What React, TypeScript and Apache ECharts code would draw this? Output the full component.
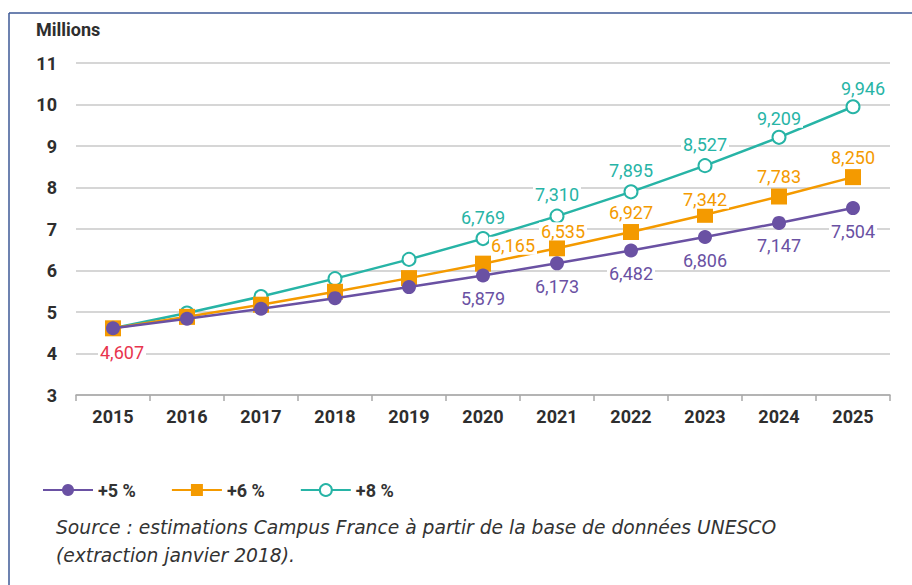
import React, { useEffect, useRef } from "react";
import * as echarts from "echarts";

const years = ["2015", "2016", "2017", "2018", "2019", "2020", "2021", "2022", "2023", "2024", "2025"];
const growth5 = [4.607, 4.837, 5.079, 5.333, 5.6, 5.879, 6.173, 6.482, 6.806, 7.147, 7.504];
const growth6 = [4.607, 4.883, 5.176, 5.487, 5.816, 6.165, 6.535, 6.927, 7.342, 7.783, 8.25];
const growth8 = [4.607, 4.976, 5.374, 5.804, 6.268, 6.769, 7.31, 7.895, 8.527, 9.209, 9.946];
const seriesNames = ["+5 %", "+6 %", "+8 %"];
const labelledFrom = 5; // labels shown for 2020..2025
const yTicks = { min: 3, max: 11, interval: 1 };

const PURPLE = "#6a51a3";
const ORANGE = "#f49a00";
const TEAL = "#27b4a6";
const RED = "#e8344e";
const FONT = "Roboto, 'Noto Sans', sans-serif";

const fmt = (v: number) => v.toFixed(3).replace(".", ",");

function labelStyle(color: string, position: string, distance: number, offset: number[]) {
  return {
    show: true,
    position,
    distance,
    offset,
    color,
    fontFamily: FONT,
    fontSize: 18,
    backgroundColor: "#ffffff",
    padding: [0, 2],
    formatter: (p: any) => fmt(p.value),
  };
}

function buildData(values: number[], color: string, position: string, offsets: Record<number, number[]>, distance: number) {
  return values.map((v, i) => {
    const show = i >= labelledFrom;
    return {
      value: v,
      label: show ? labelStyle(color, position, distance, offsets[i] || [0, 0]) : { show: false },
    };
  });
}

export default function App() {
  const ref = useRef<HTMLDivElement>(null);
  useEffect(() => {
    if (!ref.current) return;
    const chart = echarts.init(ref.current, undefined, { renderer: "svg" });

    const d5 = buildData(growth5, PURPLE, "bottom", {}, 7);
    (d5[0] as any).label = labelStyle(RED, "bottom", 8, [9, 0]);
    const d6 = buildData(growth6, ORANGE, "top", { 5: [30, 2], 6: [6, 3], 7: [0, 0], 8: [0, 5] }, 3);
    const d8 = buildData(growth8, TEAL, "top", { 10: [10, 3], 9: [0, 3] }, 5);

    chart.setOption({
      animation: false,
      backgroundColor: "#ffffff",
      grid: { left: 76, right: 22, top: 63, bottom: 190, containLabel: false },
      legend: {
        left: 37,
        top: 476,
        itemWidth: 50,
        itemHeight: 15,
        itemGap: 35,
        data: seriesNames,
        textStyle: { fontFamily: FONT, fontSize: 18, fontWeight: "bold", color: "#333333" },
      },
      xAxis: {
        type: "category",
        data: years,
        boundaryGap: true,
        axisLine: { show: true, lineStyle: { color: "#a8a8a8", width: 1.5 } },
        axisTick: { show: true, length: 6, lineStyle: { color: "#a8a8a8", width: 1.5 } },
        axisLabel: { color: "#2e2e2e", fontFamily: FONT, fontSize: 18, fontWeight: "bold", margin: 12 },
      },
      yAxis: {
        type: "value",
        min: yTicks.min,
        max: yTicks.max,
        interval: yTicks.interval,
        axisLine: { show: false },
        axisTick: { show: false },
        splitLine: { lineStyle: { color: "#c9c9c9", width: 1.5 } },
        axisLabel: { color: "#2e2e2e", fontFamily: FONT, fontSize: 18, fontWeight: "bold", margin: 19 },
      },
      graphic: [
        { type: "line", shape: { x1: 9, y1: 13, x2: 912, y2: 13 }, style: { stroke: "#3d5896", lineWidth: 1.5 } },
        { type: "line", shape: { x1: 9, y1: 13, x2: 9, y2: 585 }, style: { stroke: "#3d5896", lineWidth: 1.5 } },
        {
          type: "text",
          left: 36,
          top: 20,
          style: { text: "Millions", fill: "#2e2e2e", font: `bold 18px ${FONT}` },
        },
        {
          type: "text",
          left: 56,
          top: 513,
          style: {
            text: "Source : estimations Campus France à partir de la base de données UNESCO\n(extraction janvier 2018).",
            fill: "#333333",
            font: `italic 18.7px 'DejaVu Sans', sans-serif`,
            lineHeight: 28,
          },
        },
      ],
      series: [
        {
          name: seriesNames[2],
          type: "line",
          data: d8,
          symbol: "circle",
          symbolSize: 13,
          lineStyle: { color: TEAL, width: 2.5 },
          itemStyle: { color: "#ffffff", borderColor: TEAL, borderWidth: 2 },
          z: 2,
        },
        {
          name: seriesNames[1],
          type: "line",
          data: d6,
          symbol: "rect",
          symbolSize: 16,
          lineStyle: { color: ORANGE, width: 2.5 },
          itemStyle: { color: ORANGE },
          z: 3,
        },
        {
          name: seriesNames[0],
          type: "line",
          data: d5,
          symbol: "circle",
          symbolSize: 14,
          lineStyle: { color: PURPLE, width: 2.5 },
          itemStyle: { color: PURPLE },
          z: 4,
        },
      ],
    });
    return () => chart.dispose();
  }, []);
  return <div ref={ref} style={{ position: "fixed", left: 0, top: 0, width: 912, height: 585 }} />;
}
